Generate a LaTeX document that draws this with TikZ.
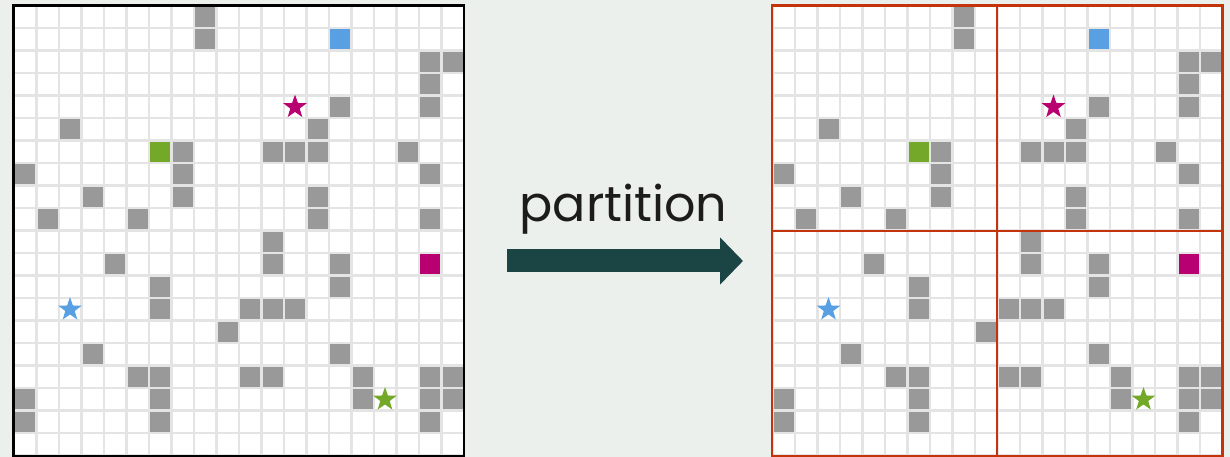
\documentclass[tikz,border=0pt]{standalone}
\usepackage{fontspec}
\usetikzlibrary{arrows.meta, positioning, shapes.geometric}
\definecolor{bgcol}{RGB}{236,240,236}
\definecolor{linecol}{RGB}{228,228,228}
\definecolor{wallcol}{RGB}{153,153,153}
\definecolor{bluecol}{RGB}{88,160,226}
\definecolor{greencol}{RGB}{116,168,40}
\definecolor{magcol}{RGB}{184,0,112}
\definecolor{partcol}{RGB}{196,52,10}
\definecolor{arrcol}{RGB}{27,69,69}
\definecolor{txtcol}{RGB}{28,28,28}
\newfontfamily\labelfont{Poppins}
% wall cells as col/row, row 0 on top
\providecommand{\wallcells}{8/0,8/1,18/2,19/2,18/3,18/4,14/4,2/5,13/5,
  7/6,11/6,12/6,13/6,17/6,0/7,7/7,18/7,3/8,7/8,13/8,1/9,5/9,13/9,18/9,
  11/10,4/11,11/11,14/11,6/12,14/12,6/13,10/13,11/13,12/13,9/14,3/15,14/15,
  5/16,6/16,10/16,11/16,15/16,18/16,19/16,0/17,6/17,15/17,18/17,19/17,
  0/18,6/18,18/18}
\providecommand{\drawmaze}[1]{%
  \fill[white] (0,0) rectangle (452.5,452.5);
  \foreach \i in {0,...,20}{
    \draw[gridline] ({1.25+22.5*\i},0) -- ++(0,452.5);
    \draw[gridline] (0,{1.25+22.5*\i}) -- ++(452.5,0);
  }
  \foreach \c/\r in \wallcells
    \fill[wallcol] ({2.5+22.5*\c},{2.5+22.5*\r}) rectangle ++(20,20);
  \fill[bluecol]  ({2.5+22.5*14},{2.5+22.5*1})  rectangle ++(20,20);
  \fill[greencol] ({2.5+22.5*6},{2.5+22.5*6})   rectangle ++(20,20);
  \fill[magcol]   ({2.5+22.5*18},{2.5+22.5*11}) rectangle ++(20,20);
  \node[agent, fill=magcol]   (#1magstar) at ({12.5+22.5*12},{12.5+22.5*4})  {};
  \node[agent, fill=bluecol]  (#1bluestar) at ({12.5+22.5*2},{12.5+22.5*13}) {};
  \node[agent, fill=greencol] (#1greenstar) at ({12.5+22.5*16},{12.5+22.5*17}) {};
}

\begin{document}
\begin{tikzpicture}[
  x=0.025cm, y=-0.025cm,
  gridline/.style = {linecol, line width=0.0625cm},
  agent/.style    = {star, star points=5, star point ratio=2.5, minimum size=0.62cm,
                     inner sep=0pt, draw=none},
  gridframe/.style= {minimum size=11.25cm, inner sep=0pt, line width=0.0625cm},
  partline/.style = {partcol, line width=0.06cm},
  bigarr/.style   = {-{Triangle[length=0.575cm, width=1.15cm]}, line width=0.575cm, arrcol},
  lbl/.style      = {font=\labelfont\fontsize{35}{40}\selectfont, text=txtcol, inner sep=0pt},
]
\path[use as bounding box, fill=bgcol] (0,0) rectangle (1230,457);

% ---------- full map (left) ----------
\begin{scope}[shift={(12.5,4.5)}]
  \drawmaze{L}
  \node[gridframe, draw=black] (Lgrid) at (226.25,226.25) {};
\end{scope}

% ---------- partitioned map (right) ----------
\begin{scope}[shift={(771,4.5)}]
  \drawmaze{R}
  \node[gridframe, draw=partcol] (Rgrid) at (226.25,226.25) {};
\end{scope}
\draw[partline] (Rgrid.north) -- (Rgrid.south);
\draw[partline] (Rgrid.west) -- (Rgrid.east);

% ---------- arrow + label ----------
\coordinate (arrS) at (507,261);
\coordinate (arrE) at (743,261);
\draw[bigarr] (arrS) -- (arrE);
\node[lbl, anchor=base] (Lbl) at (623.5,222) {partition};

\end{tikzpicture}
\end{document}
